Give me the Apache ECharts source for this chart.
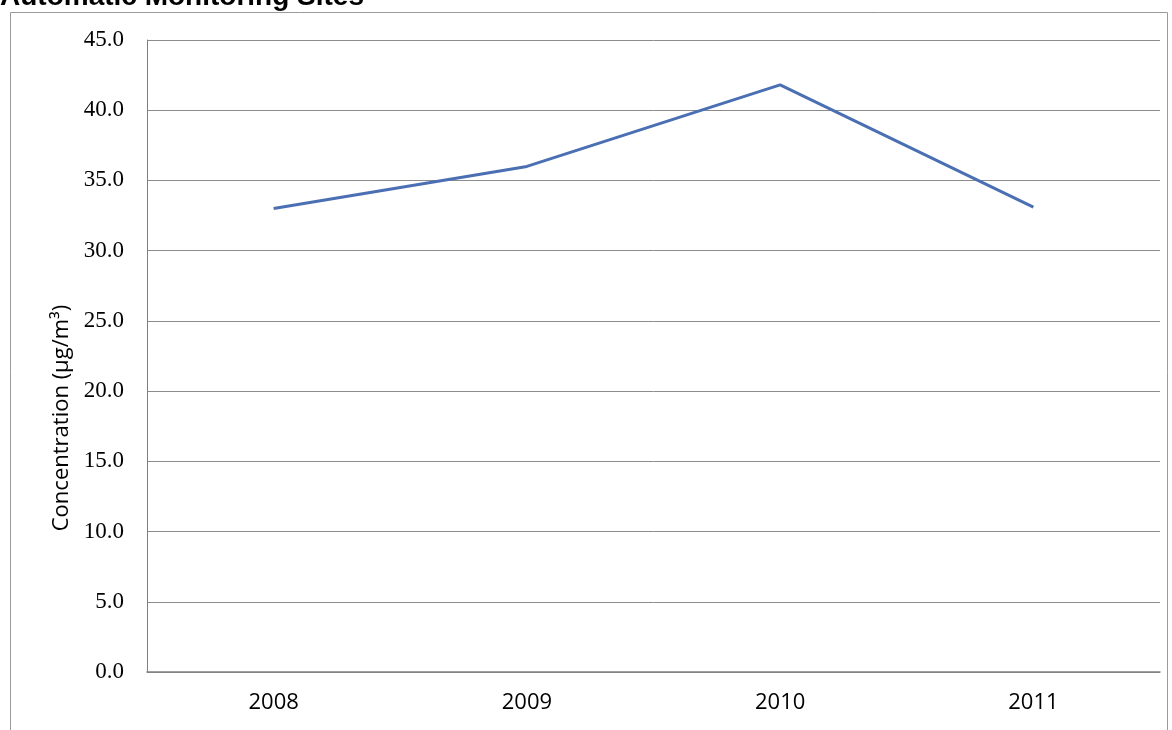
<!DOCTYPE html>
<html>
<head>
<meta charset="utf-8">
<script src="https://cdn.jsdelivr.net/npm/echarts@6/dist/echarts.min.js"></script>
<style>
  html, body { margin: 0; padding: 0; background: #fff; }
  #chart { width: 1172px; height: 730px; }
</style>
</head>
<body>
<div id="chart"></div>
<script>
const years = ['2008', '2009', '2010', '2011']
const concentration = [33.0, 36.0, 41.8, 33.1]
const yMin = 0
const yMax = 45
const yStep = 5

const chart = echarts.init(document.getElementById('chart'))

const option = {
  backgroundColor: '#ffffff',
  animation: false,
  title: {
    text: 'Automatic Monitoring Sites',
    left: -5,
    top: -22,
    textStyle: { color: '#000', fontWeight: 'bold', fontSize: 28, fontFamily: "'Liberation Sans', Arial" }
  },
  graphic: [
    {
      type: 'rect',
      shape: { x: 10.5, y: 12.5, width: 1157, height: 740 },
      style: { fill: 'none', stroke: '#9a9a9a', lineWidth: 1 },
      z: -1
    }
  ],
  grid: { left: 147, right: 12, top: 40, bottom: 58 },
  xAxis: {
    type: 'category',
    data: years,
    boundaryGap: true,
    axisLine: { lineStyle: { color: '#808080', width: 1.5 } },
    axisTick: { show: false },
    axisLabel: { color: '#000', fontSize: 22, fontFamily: "'Liberation Sans Narrow', 'Open Sans'", margin: 20 }
  },
  yAxis: {
    type: 'value',
    min: yMin,
    max: yMax,
    interval: yStep,
    name: 'Concentration (μg/m³)',
    nameLocation: 'middle',
    nameGap: 62,
    nameTextStyle: {
      color: '#000',
      fontSize: 22,
      fontFamily: "'Open Sans'",
      padding: [0, 124, 0, 0]
    },
    axisLine: { show: true, lineStyle: { color: '#808080', width: 1 } },
    axisTick: { show: false },
    axisLabel: {
      color: '#000',
      fontSize: 23,
      fontFamily: "'Liberation Serif', 'DejaVu Serif'",
      margin: 23,
      formatter: v => v.toFixed(1)
    },
    splitLine: { lineStyle: { color: '#8c8c8c', width: 1 } }
  },
  series: [
    {
      name: 'Concentration',
      type: 'line',
      data: concentration,
      symbol: 'none',
      lineStyle: { color: '#4a6fb3', width: 3 }
    }
  ]
}

chart.setOption(option)
</script>
</body>
</html>
